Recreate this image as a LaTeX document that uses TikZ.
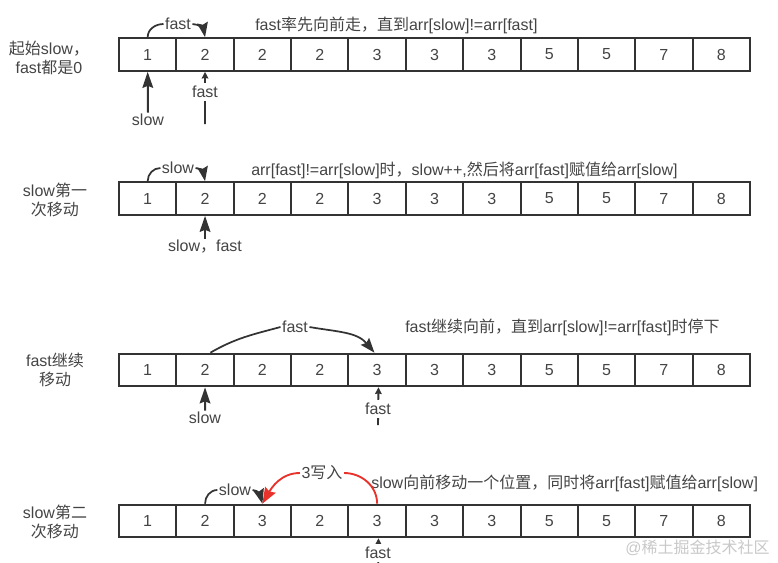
\documentclass[tikz,border=0pt]{standalone}
\usepackage{fontspec}
\setmainfont{Liberation Sans}
\newfontfamily\cjk{Noto Sans CJK SC}
\newcommand\zh[1]{{\cjk #1}}
\usetikzlibrary{arrows.meta}
\definecolor{txt}{HTML}{444444}
\definecolor{bord}{HTML}{333333}
\definecolor{redc}{HTML}{E8322B}
\definecolor{wm}{HTML}{C8C8C8}
\begin{document}
\begin{tikzpicture}[x=0.75pt,y=-0.75pt,
  base/.style={text=txt,font=\fontsize{12}{14.25}\selectfont},
  cell/.style={base,draw=bord,line width=1.5pt,minimum width=43pt,minimum height=24.5pt,inner sep=0pt},
  lbl/.style={base,inner sep=1pt},
  desc/.style={base,anchor=west,inner sep=0pt},
  bigptr/.style={draw=bord,line width=1.5pt,-{Stealth[length=12pt,width=8pt,inset=1.5pt]}},
  smallptr/.style={draw=bord,line width=1.4pt,-{Stealth[length=5pt,width=5pt,inset=0.5pt]}},
  curv/.style={draw=bord,line width=1.3pt},
  curvarr/.style={curv,-{Stealth[length=11pt,width=8pt,inset=1.5pt]}},
  redarr/.style={draw=redc,line width=1.4pt,-{Stealth[length=12pt,width=9pt,inset=1.5pt]}}]
\useasboundingbox (0,0) rectangle (778,562);
% arrays
\foreach \r/\y/\vals in {1/54.5/{1,2,2,2,3,3,3,5,5,7,8},2/198.5/{1,2,2,2,3,3,3,5,5,7,8},3/370/{1,2,2,2,3,3,3,5,5,7,8},4/521/{1,2,3,2,3,3,3,5,5,7,8}}{
  \foreach \v [count=\i] in \vals {
    \node[cell] (r\r-\i) at ({119+57.36*(\i-0.5)},\y) {\v};
  }
}
% left labels
\node[lbl,align=center] (t1) at (49,57.5) {\zh{起始}slow\zh{，}\\fast\zh{都是}0};
\node[lbl,align=center] (t2) at (55,200) {slow\zh{第一}\\\zh{次移动}};
\node[lbl,align=center] (t3) at (55,370) {fast\zh{继续}\\\zh{移动}};
\node[lbl,align=center] (t4) at (55,522) {slow\zh{第二}\\\zh{次移动}};
% descriptions
\node[desc] (d1) at (255,25) {fast\zh{率先向前走，直到}arr[slow]!=arr[fast]};
\node[desc] (d2) at (251,170) {arr[fast]!=arr[slow]\zh{时，}slow++,\zh{然后将}arr[fast]\zh{赋值给}arr[slow]};
\node[desc] (d3) at (405,327) {fast\zh{继续向前，直到}arr[slow]!=arr[fast]\zh{时停下}};
\node[desc] (d4) at (371,483) {slow\zh{向前移动一个位置，同时将}arr[fast]\zh{赋值给}arr[slow]};
% row 1 curve
\node[lbl] (f1) at (178,24) {fast};
\draw[curv] (r1-1.north) to[out=90,in=180] (f1.west);
\draw[curvarr] (f1.east) to[out=0,in=100] (r1-2.north);
% row 2 curve
\node[lbl] (s2) at (178,168) {slow};
\draw[curv] (r2-1.north) to[out=90,in=180] (s2.west);
\draw[curvarr] (s2.east) to[out=0,in=100] (r2-2.north);
% row 3 curve
\node[lbl] (f3) at (295,327) {fast};
\draw[curv] ([xshift=4pt]r3-2.north) to[out=30,in=195] (f3.west);
\draw[curvarr] (f3.east) to[out=-10,in=130] ([xshift=-2pt]r3-5.north);
% row 4 curves
\node[lbl] (s4) at (235,490) {slow};
\draw[curv] (r4-2.north) to[out=90,in=180] (s4.west);
\draw[curvarr] (s4.east) to[out=0,in=105] (r4-3.north);
\node[lbl] (w4) at (322,473) {3\zh{写入}};
\draw[draw=redc,line width=1.4pt] (r4-5.north) to[out=90,in=0] (w4.east);
\draw[redarr] (w4.west) to[out=180,in=60] (r4-3.north);
% bottom pointers row 1
\node[lbl] (p1s) at (148,120) {slow};
\draw[bigptr] (p1s.north) -- (r1-1.south);
\coordinate (c1f) at (205,124);
\draw[smallptr] (c1f) -- (r1-2.south);
\node[lbl,fill=white,inner sep=2pt] (p1f) at (205,92) {fast};
% row 2
\node[lbl] (p2) at (205,247) {slow\zh{，}fast};
\draw[bigptr] (p2.north -| r2-2.south) -- (r2-2.south);
% row 3
\node[lbl] (p3s) at (205,418) {slow};
\draw[bigptr] (p3s.north) -- (r3-2.south);
\coordinate (c3f) at (378,425);
\draw[smallptr] (c3f) -- ([xshift=1pt]r3-5.south);
\node[lbl,fill=white,inner sep=2pt] (p3f) at (378,409) {fast};
% row 4
\coordinate (c4f) at (378,580);
\draw[smallptr] (c4f) -- ([xshift=1pt]r4-5.south);
\node[lbl,fill=white,inner sep=2pt] (p4f) at (378,553) {fast};
% watermark
\node[anchor=east,text=wm,inner sep=0pt,font=\fontsize{12}{14}\selectfont] (wmk) at (770,548) {@\zh{稀土掘金技术社区}};
\end{tikzpicture}
\end{document}
